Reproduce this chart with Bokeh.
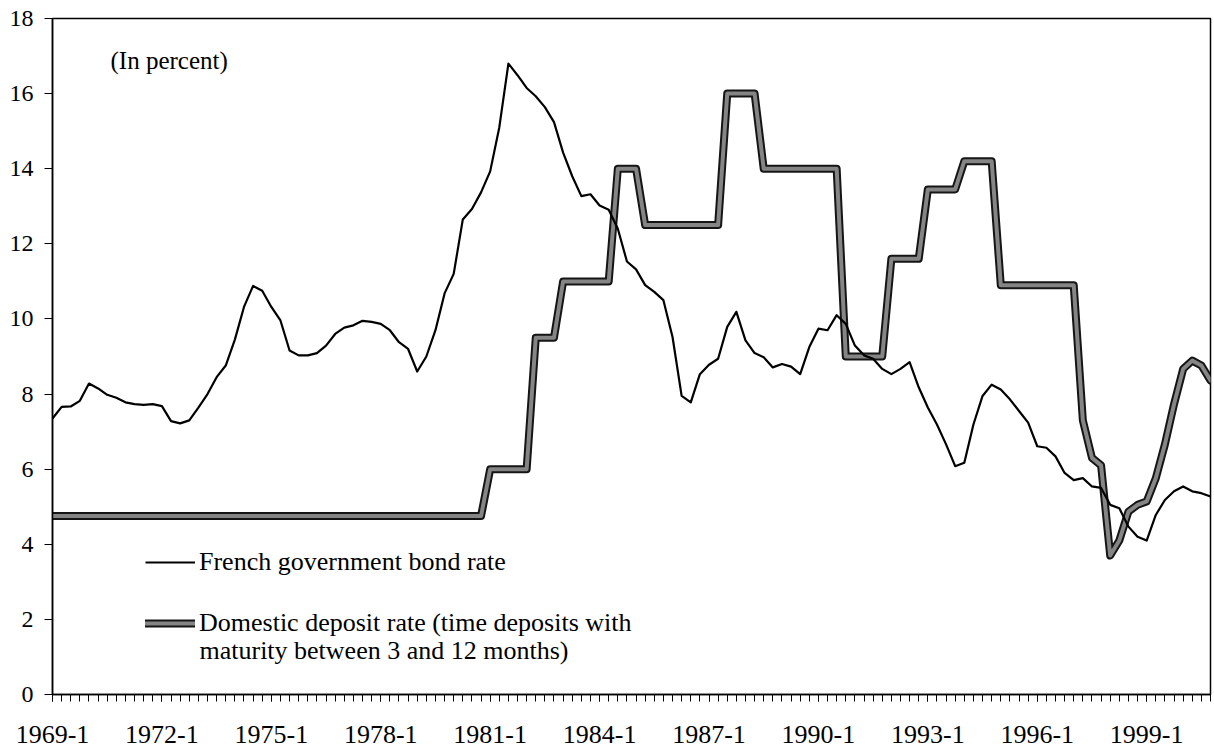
from bokeh.plotting import figure
from bokeh.models import FixedTicker, Legend, LegendItem, Label, ColumnDataSource, Range1d
from bokeh.embed import file_html
from bokeh.resources import INLINE

# ---- data ----
quarters = [f"{y}-{q}" for y in range(1969, 2001) for q in range(1, 5)]

bond_rate = [
    7.35, 7.66, 7.67, 7.82, 8.28, 8.15, 7.98, 7.90, 7.78, 7.73,
    7.71, 7.73, 7.68, 7.28, 7.22, 7.30, 7.64, 8.00, 8.45, 8.76,
    9.45, 10.32, 10.88, 10.75, 10.32, 9.96, 9.16, 9.03, 9.03, 9.09,
    9.29, 9.60, 9.77, 9.83, 9.95, 9.92, 9.87, 9.70, 9.38, 9.20,
    8.60, 9.00, 9.70, 10.68, 11.20, 12.65, 12.93, 13.37, 13.93, 15.10,
    16.80, 16.49, 16.15, 15.93, 15.64, 15.24, 14.43, 13.80, 13.27, 13.32,
    13.02, 12.91, 12.40, 11.53, 11.32, 10.90, 10.72, 10.50, 9.52, 7.95,
    7.78, 8.53, 8.78, 8.94, 9.79, 10.19, 9.43, 9.09, 8.98, 8.71,
    8.80, 8.73, 8.53, 9.25, 9.74, 9.70, 10.10, 9.87, 9.29, 9.03,
    8.94, 8.67, 8.53, 8.67, 8.85, 8.18, 7.64, 7.19, 6.66, 6.08,
    6.17, 7.19, 7.95, 8.25, 8.12, 7.86, 7.55, 7.24, 6.61, 6.57,
    6.34, 5.90, 5.71, 5.76, 5.54, 5.50, 5.05, 4.96, 4.47, 4.20,
    4.10, 4.78, 5.18, 5.41, 5.54, 5.41, 5.36, 5.27,
]

deposit_rate = [
    4.75, 4.75, 4.75, 4.75, 4.75, 4.75, 4.75, 4.75, 4.75, 4.75,
    4.75, 4.75, 4.75, 4.75, 4.75, 4.75, 4.75, 4.75, 4.75, 4.75,
    4.75, 4.75, 4.75, 4.75, 4.75, 4.75, 4.75, 4.75, 4.75, 4.75,
    4.75, 4.75, 4.75, 4.75, 4.75, 4.75, 4.75, 4.75, 4.75, 4.75,
    4.75, 4.75, 4.75, 4.75, 4.75, 4.75, 4.75, 4.75, 6.00, 6.00,
    6.00, 6.00, 6.00, 9.50, 9.50, 9.50, 11.00, 11.00, 11.00, 11.00,
    11.00, 11.00, 14.00, 14.00, 14.00, 12.50, 12.50, 12.50, 12.50, 12.50,
    12.50, 12.50, 12.50, 12.50, 16.00, 16.00, 16.00, 16.00, 14.00, 14.00,
    14.00, 14.00, 14.00, 14.00, 14.00, 14.00, 14.00, 9.00, 9.00, 9.00,
    9.00, 9.00, 11.60, 11.60, 11.60, 11.60, 13.45, 13.45, 13.45, 13.45,
    14.20, 14.20, 14.20, 14.20, 10.90, 10.90, 10.90, 10.90, 10.90, 10.90,
    10.90, 10.90, 10.90, 7.30, 6.30, 6.10, 3.70, 4.10, 4.87, 5.05,
    5.14, 5.76, 6.66, 7.73, 8.67, 8.89, 8.76, 8.36,
]

tick_labels = ["1969-1", "1972-1", "1975-1", "1978-1", "1981-1", "1984-1",
               "1987-1", "1990-1", "1993-1", "1996-1", "1999-1"]
y_ticks = [0, 2, 4, 6, 8, 10, 12, 14, 16, 18]

series_names = ["French government bond rate",
                "Domestic deposit rate (time deposits with",
                "maturity between 3 and 12 months)"]
unit_note = "(In percent)"

# ---- figure ----
FONT = "Liberation Serif"
x = list(range(len(quarters)))
src = ColumnDataSource(dict(x=x, q=quarters, bond=bond_rate, dep=deposit_rate))

p = figure(width=1212, height=748, output_backend="svg", toolbar_location=None,
           x_range=Range1d(0, len(quarters) - 1), y_range=Range1d(0, 18),
           min_border_left=52, min_border_right=2, min_border_top=18,
           min_border_bottom=54)
p.grid.visible = False
p.background_fill_color = "white"
p.border_fill_color = "white"
p.outline_line_color = "black"
p.outline_line_width = 1.5

r_dep_edge = p.line("x", "dep", source=src, line_color="#151515", line_width=8,
                    line_join="round", line_cap="round")
r_dep_fill = p.line("x", "dep", source=src, line_color="#858585", line_width=4,
                    line_join="round", line_cap="round")
r_bond = p.line("x", "bond", source=src, line_color="black", line_width=2.2,
                line_join="round")

# x axis
p.xaxis.ticker = FixedTicker(ticks=[quarters.index(t) for t in tick_labels],
                             minor_ticks=x)
p.xaxis.major_label_overrides = {quarters.index(t): t for t in tick_labels}
p.xaxis.major_tick_out = 7
p.xaxis.major_tick_in = 0
p.xaxis.minor_tick_out = 7
p.xaxis.minor_tick_in = 0
p.xaxis.major_label_standoff = 24
p.xaxis.major_label_text_font_size = "26px"

# y axis
p.yaxis.ticker = FixedTicker(ticks=y_ticks, minor_ticks=[])
p.yaxis.major_tick_out = 8
p.yaxis.major_tick_in = 0
p.yaxis.minor_tick_out = 0
p.yaxis.minor_tick_in = 0
p.yaxis.major_label_standoff = 11
p.yaxis.major_label_text_font_size = "24px"

for ax in (p.xaxis[0], p.yaxis[0]):
    ax.axis_line_color = "black"
    ax.axis_line_width = 1.5
    ax.major_tick_line_color = "black"
    ax.minor_tick_line_color = "black"
    ax.major_label_text_font = FONT
    ax.major_label_text_color = "black"

# legend
legend = Legend(items=[LegendItem(label=series_names[0], renderers=[r_bond]),
                       LegendItem(label=series_names[1], renderers=[r_dep_edge, r_dep_fill])],
                location=(93, 56), orientation="vertical",
                padding=0, margin=0, spacing=31,
                glyph_width=50, glyph_height=30, label_height=30, label_standoff=4,
                label_text_font=FONT, label_text_font_size="26px",
                label_text_color="black",
                background_fill_alpha=0, border_line_alpha=0)
p.add_layout(legend)

p.add_layout(Label(x=16.12, y=1.17, text=series_names[2], text_baseline="middle",
                   text_font=FONT, text_font_size="26px", text_color="black"))
p.add_layout(Label(x=6.36, y=16.88, text=unit_note, text_baseline="middle",
                   text_font=FONT, text_font_size="25px", text_color="black"))

open("out.html", "w").write(file_html(p, INLINE))
